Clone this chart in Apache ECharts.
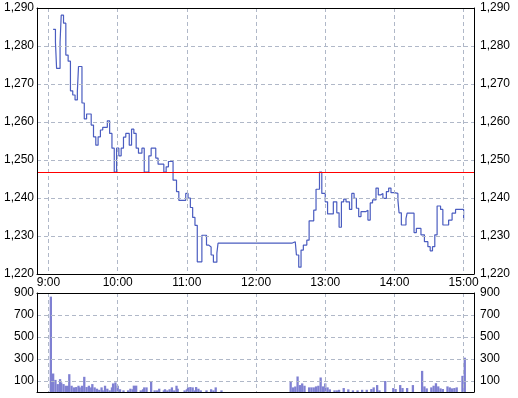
<!DOCTYPE html>
<html>
<head>
<meta charset="utf-8">
<script src="https://cdn.jsdelivr.net/npm/echarts@6/dist/echarts.min.js"></script>
<style>
  html, body { margin: 0; padding: 0; background: #fff; }
  #chart { width: 518px; height: 398px; }
</style>
</head>
<body>
<div id="chart"></div>
<script>

// price steps: minutes after 9:00 and index value from that minute on
var priceTimes = [4, 6, 7, 10, 11, 13, 15, 17, 19, 21, 23, 25, 26, 29, 31, 33, 37, 39, 41, 43,
    45, 47, 51, 53, 55, 57, 59, 61, 63, 65, 67, 70, 72, 74, 76, 78, 81, 83, 87, 89,
    93, 95, 100, 102, 104, 108, 111, 113, 119, 121, 123, 125, 127, 129, 133, 137, 139, 141, 143, 146,
    147, 211, 214, 215, 217, 219, 221, 224, 226, 230, 232, 235, 237, 240, 242, 247, 250, 252, 254, 256,
    258, 261, 263, 265, 267, 269, 271, 275, 277, 279, 281, 284, 286, 288, 290, 293, 295, 297, 300, 303,
    304, 306, 310, 311, 317, 319, 323, 326, 329, 331, 333, 335, 337, 340, 342, 347, 350, 353, 360];
var priceValues = [1284.4, 1281.0, 1274.1, 1281.0, 1288.1, 1286.0, 1277.6, 1276.0, 1268.2, 1267.1, 1265.8, 1268.0, 1274.6, 1265.0, 1260.8, 1262.1, 1259.2, 1256.1, 1253.9, 1256.1,
    1257.9, 1258.6, 1260.3, 1257.0, 1253.1, 1246.8, 1253.1, 1251.1, 1253.1, 1256.0, 1257.0, 1253.9, 1258.1, 1257.0, 1253.1, 1251.8, 1253.1, 1246.8, 1251.1, 1253.1,
    1250.5, 1248.9, 1246.8, 1248.2, 1249.6, 1244.7, 1241.7, 1239.4, 1241.2, 1240.0, 1237.5, 1234.9, 1232.8, 1223.2, 1230.2, 1227.6, 1227.1, 1225.0, 1223.1, 1225.5,
    1228.1, 1228.5, 1228.1, 1225.0, 1221.8, 1226.3, 1227.6, 1228.9, 1234.0, 1236.8, 1242.3, 1246.8, 1241.2, 1239.0, 1235.8, 1239.0, 1236.1, 1232.3, 1239.0, 1239.7,
    1239.0, 1237.0, 1241.2, 1239.9, 1237.3, 1235.1, 1236.4, 1236.8, 1234.2, 1238.7, 1239.5, 1242.6, 1240.8, 1241.2, 1239.9, 1241.7, 1242.6, 1241.4, 1241.2, 1239.5,
    1236.1, 1232.9, 1234.6, 1236.0, 1230.9, 1232.0, 1230.3, 1228.5, 1227.2, 1226.1, 1227.2, 1230.3, 1237.9, 1237.0, 1232.9, 1234.2, 1236.0, 1237.0, 1234.2];

var prevClose = 1246.8;

// volume bars: minutes after 9:00 and volume
var volTimes = [2, 4, 6, 8, 10, 11, 13, 15, 17, 18, 20, 22, 24, 26, 27, 29, 31, 33, 35, 37,
    38, 40, 42, 44, 46, 47, 49, 51, 53, 55, 56, 58, 60, 62, 65, 69, 71, 73, 74, 76,
    80, 82, 83, 85, 89, 92, 94, 96, 100, 101, 103, 105, 107, 109, 111, 112, 118, 120, 121, 123,
    125, 127, 128, 130, 132, 137, 141, 143, 145, 150,
    210, 212, 214, 216, 218, 220, 222, 226, 228, 230, 232, 234, 236, 238, 240, 242, 244, 248, 250, 252,
    256, 260, 264, 268, 272, 276, 280, 282, 285, 287, 292, 299, 301, 305, 307, 311, 316, 324, 326, 328,
    332, 334, 336, 338, 340, 342, 346, 348, 350, 352, 354, 359, 361];
var volValues = [867, 168, 110, 72, 117, 87, 72, 57, 57, 162, 57, 42, 45, 57, 42, 57, 138, 45, 57, 42,
    72, 42, 30, 20, 42, 15, 57, 30, 15, 42, 78, 87, 57, 25, 15, 15, 30, 25, 58, 58,
    15, 25, 42, 42, 100, 15, 15, 30, 15, 25, 15, 25, 42, 15, 57, 30, 15, 25, 42, 45,
    42, 15, 45, 30, 15, 15, 25, 15, 42, 15,
    93, 42, 50, 141, 63, 78, 57, 42, 42, 42, 51, 57, 132, 51, 78, 42, 24, 15, 15, 20,
    36, 24, 15, 15, 20, 20, 27, 42, 63, 15, 100, 36, 27, 63, 36, 36, 63, 192, 51, 33,
    42, 57, 80, 51, 33, 27, 51, 42, 33, 36, 42, 147, 312];

var priceMin = 1220, priceMax = 1290, priceStep = 10;
var volMin = 0, volMax = 900, volStep = 100;
var volGridValues = [100, 300, 500, 700];

// minute categories from 8:50 to 15:09
var startMinute = -10, endMinute = 369;
var minuteLabels = [];
for (var m = startMinute; m <= endMinute; m++) {
    var abs = 9 * 60 + m;
    var mm = abs % 60;
    minuteLabels.push(Math.floor(abs / 60) + ':' + (mm < 10 ? '0' + mm : mm));
}

function isHour(index) {
    var t = index + startMinute;
    return t >= 0 && t <= 360 && t % 60 === 0;
}

function pairs(times, values) {
    var out = [];
    for (var i = 0; i < times.length; i++) {
        out.push([times[i] - startMinute, values[i]]);
    }
    return out;
}

function comma(v) {
    return String(v).replace(/(\d)(?=(\d{3})+$)/g, '$1,');
}

function volLabel(v) {
    return v % 200 === 100 ? String(v) : '';
}

var font = 'Liberation Sans';
var gridColor = '#b0b8c8';
var dash = [4, 3];
var frame = { show: true, onZero: false, lineStyle: { color: '#000', width: 1 } };

// x axis: bottom one carries the hour labels and grid lines, top one only draws the frame
function timeAxis(grid, pos, labels, split) {
    return {
        gridIndex: grid,
        type: 'category',
        position: pos,
        data: minuteLabels,
        boundaryGap: false,
        z: 5,
        axisLine: frame,
        axisTick: { show: false },
        axisLabel: labels ? { interval: isHour, color: '#000', fontSize: 12, fontFamily: font, margin: 3 } : { show: false },
        splitLine: { show: split, interval: isHour, lineStyle: { color: gridColor, type: dash, width: 1 } }
    };
}

function valueAxis(grid, pos, lo, hi, step, fmt, split) {
    return {
        gridIndex: grid,
        type: 'value',
        position: pos,
        min: lo, max: hi, interval: step,
        z: 5,
        axisLine: frame,
        axisTick: { show: false },
        axisLabel: { formatter: fmt, color: '#000', fontSize: 12, fontFamily: font, margin: pos === 'left' ? 3 : 6 },
        splitLine: { show: split, lineStyle: { color: gridColor, type: dash, width: 1 } }
    };
}

var chart = echarts.init(document.getElementById('chart'), null, { renderer: 'canvas' });

var option = {
    animation: false,
    backgroundColor: '#fff',
    grid: [
        { left: 37, top: 8, width: 437, height: 266 },
        { left: 37, top: 293, width: 437, height: 99 }
    ],
    xAxis: [
        timeAxis(0, 'bottom', true, true),
        timeAxis(1, 'bottom', false, true),
        timeAxis(0, 'top', false, false),
        timeAxis(1, 'top', false, false)
    ],
    yAxis: [
        valueAxis(0, 'left', priceMin, priceMax, priceStep, comma, true),
        valueAxis(0, 'right', priceMin, priceMax, priceStep, comma, false),
        valueAxis(1, 'left', volMin, volMax, volStep, volLabel, false),
        valueAxis(1, 'right', volMin, volMax, volStep, volLabel, false)
    ],
    series: [{
        // volume grid lines, kept under the bars
        type: 'line',
        xAxisIndex: 1,
        yAxisIndex: 2,
        data: [],
        z: 1,
        markLine: {
            silent: true,
            symbol: 'none',
            label: { show: false },
            lineStyle: { color: gridColor, type: dash, width: 1 },
            data: volGridValues.map(function (v) { return { yAxis: v }; })
        }
    }, {
        type: 'bar',
        xAxisIndex: 1,
        yAxisIndex: 2,
        barWidth: 2.3,
        z: 3,
        itemStyle: { color: '#7f80d2' },
        data: pairs(volTimes, volValues)
    }, {
        type: 'line',
        xAxisIndex: 0,
        yAxisIndex: 0,
        step: 'end',
        symbol: 'none',
        z: 3,
        lineStyle: { color: '#4a5cc0', width: 1.2 },
        data: pairs(priceTimes, priceValues),
        markLine: {
            silent: true,
            symbol: 'none',
            label: { show: false },
            lineStyle: { color: '#ff0000', type: 'solid', width: 1 },
            data: [{ yAxis: prevClose }]
        }
    }]
};

chart.setOption(option);

</script>
</body>
</html>
